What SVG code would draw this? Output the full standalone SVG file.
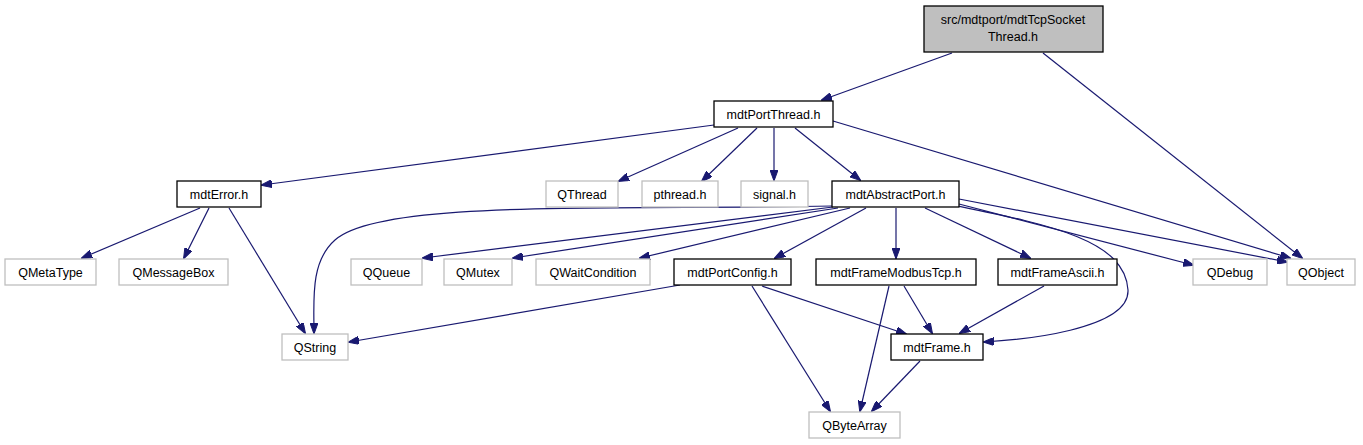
<svg xmlns="http://www.w3.org/2000/svg" width="1363" height="445" viewBox="0 0 1363 445">
<defs>
<marker id="ah" markerWidth="11" markerHeight="8" refX="10" refY="4" orient="auto" markerUnits="userSpaceOnUse">
<path d="M0,0 L11,4 L0,8 z" fill="#191970" stroke="#191970"/>
</marker>
<style>
.n rect{fill:#fff;stroke:#000;stroke-width:1.3}
.g rect{fill:#fff;stroke:#bfbfbf;stroke-width:1.3}
.r rect{fill:#bfbfbf;stroke:#000;stroke-width:1.3}
text{font-family:"Liberation Sans",Arial,sans-serif;font-size:12.5px;text-anchor:middle;fill:#000}
#edges path{fill:none;stroke:#191970;stroke-width:1.2;marker-end:url(#ah)}
</style>
</defs>
<g id="edges">
<path d="M952,53 L822,100"/>
<path d="M1043,53 L1302,258"/>
<path d="M714,125 L262,185"/>
<path d="M738,128 L619,181"/>
<path d="M757,128 L702,181"/>
<path d="M774,128 L774,180"/>
<path d="M795,128 L860,180"/>
<path d="M833,121 L1290,258"/>
<path d="M200,208 L82,258"/>
<path d="M209,208 L184,258"/>
<path d="M229,208 L305,333"/>
<path d="M832,206 C600,210 380,200 335,240 C310,262 314,300 314,333"/>
<path d="M833,207 L423,258"/>
<path d="M838,208 L513,258"/>
<path d="M850,208 L640,258"/>
<path d="M866,208 L775,258"/>
<path d="M896,208 L896,258"/>
<path d="M925,208 L1030,258"/>
<path d="M958,206 C1050,225 1125,240 1128,290 C1130,330 1020,340 984,342"/>
<path d="M959,204 L1193,265"/>
<path d="M959,199 L1287,262"/>
<path d="M680,285 L349,342"/>
<path d="M762,286 L906,334"/>
<path d="M752,286 L830,411"/>
<path d="M904,286 L932,333"/>
<path d="M889,286 L860,411"/>
<path d="M1044,286 L960,333"/>
<path d="M920,361 L872,411"/>
</g>
<g id="n_top" class="r"><rect x="924" y="6" width="179" height="46"/><text x="1013" y="24">src/mdtport/mdtTcpSocket</text><text x="1013" y="41">Thread.h</text></g>
<g id="n_portthread" class="n"><rect x="714" y="101" width="119" height="26"/><text x="773.5" y="118.5">mdtPortThread.h</text></g>
<g id="n_error" class="n"><rect x="177" y="181" width="84" height="26"/><text x="219" y="198.5">mdtError.h</text></g>
<g id="n_qthread" class="g"><rect x="546" y="181" width="72" height="26"/><text x="582" y="198.5">QThread</text></g>
<g id="n_pthread" class="g"><rect x="642" y="181" width="76" height="26"/><text x="680" y="198.5">pthread.h</text></g>
<g id="n_signal" class="g"><rect x="741" y="181" width="67" height="26"/><text x="774.5" y="198.5">signal.h</text></g>
<g id="n_abstract" class="n"><rect x="832" y="181" width="127" height="26"/><text x="895.5" y="198.5">mdtAbstractPort.h</text></g>
<g id="n_qmetatype" class="g"><rect x="5" y="259" width="91" height="26"/><text x="50.5" y="276.5">QMetaType</text></g>
<g id="n_qmessagebox" class="g"><rect x="119" y="259" width="109" height="26"/><text x="173.5" y="276.5">QMessageBox</text></g>
<g id="n_qqueue" class="g"><rect x="351" y="259" width="71" height="26"/><text x="386.5" y="276.5">QQueue</text></g>
<g id="n_qmutex" class="g"><rect x="444" y="259" width="68" height="26"/><text x="478" y="276.5">QMutex</text></g>
<g id="n_qwait" class="g"><rect x="536" y="259" width="114" height="26"/><text x="593" y="276.5">QWaitCondition</text></g>
<g id="n_portconfig" class="n"><rect x="674" y="259" width="117" height="26"/><text x="732.5" y="276.5">mdtPortConfig.h</text></g>
<g id="n_modbustcp" class="n"><rect x="816" y="259" width="160" height="26"/><text x="896" y="276.5">mdtFrameModbusTcp.h</text></g>
<g id="n_ascii" class="n"><rect x="998" y="259" width="119" height="26"/><text x="1057.5" y="276.5">mdtFrameAscii.h</text></g>
<g id="n_qdebug" class="g"><rect x="1193" y="259" width="74" height="26"/><text x="1230" y="276.5">QDebug</text></g>
<g id="n_qobject" class="g"><rect x="1287" y="259" width="68" height="26"/><text x="1321" y="276.5">QObject</text></g>
<g id="n_qstring" class="g"><rect x="282" y="334" width="66" height="26"/><text x="315" y="351.5">QString</text></g>
<g id="n_frame" class="n"><rect x="891" y="334" width="92" height="26"/><text x="937" y="351.5">mdtFrame.h</text></g>
<g id="n_qbytearray" class="g"><rect x="809" y="412" width="91" height="26"/><text x="854.5" y="429.5">QByteArray</text></g>
</svg>
